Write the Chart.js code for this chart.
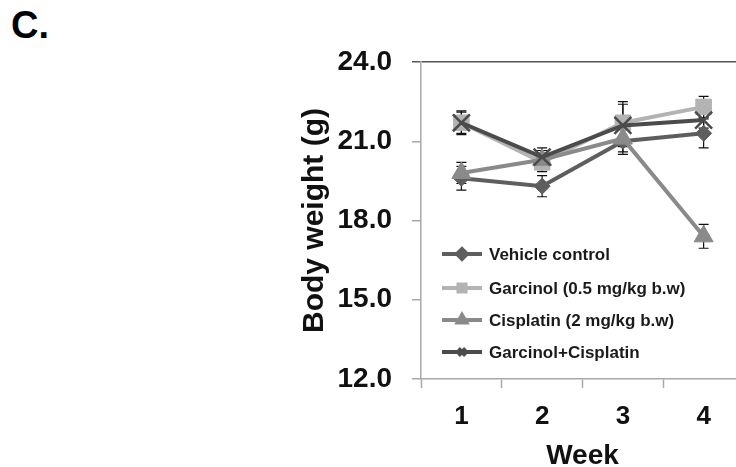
<!DOCTYPE html>
<html>
<head>
    <meta charset="utf-8" />
    <title>Body weight</title>
    <style>
        body { margin: 0; background: #fff; overflow: hidden; }
        #panel { position: absolute; left: 11px; top: 4px; font: bold 38px "Liberation Sans", Arial, sans-serif; color: #000; }
        #wrap { position: absolute; left: 0; top: 0; }
    </style>
</head>
<body>
    <div id="panel">C.</div>
    <div id="wrap"><canvas id="chart" width="760" height="467"></canvas></div>

    <script src="https://cdn.jsdelivr.net/npm/chart.js"></script>
    <script type="text/javascript">
        // datos
        const weeks = ['1', '2', '3', '4'];
        const yTicks = [12, 15, 18, 21, 24];

        const vehicle = [19.6, 19.3, 21.0, 21.3];
        const vehicleErr = [0.45, 0.4, 0.5, 0.55];
        const garcinol = [21.7, 20.2, 21.7, 22.3];
        const garcinolErr = [0.45, 0.35, 0.8, 0.4];
        const cisplatin = [19.8, 20.3, 21.1, 17.4];
        const cisplatinErr = [0.4, 0.35, 0.5, 0.45];
        const combo = [21.7, 20.4, 21.6, 21.8];
        const comboErr = [0.4, 0.35, 0.8, 0.3];

        const fontFam = '"Liberation Sans", Arial, sans-serif';

        // barras de error
        const errorBars = {
            id: 'errorBars',
            beforeDatasetsDraw(chart) {
                const ctx = chart.ctx;
                const y = chart.scales.y;
                ctx.save();
                ctx.strokeStyle = '#111';
                ctx.lineWidth = 1.2;
                chart.data.datasets.forEach((ds, i) => {
                    const meta = chart.getDatasetMeta(i);
                    meta.data.forEach((pt, j) => {
                        const v = ds.data[j];
                        const e = ds.err[j];
                        const y1 = y.getPixelForValue(v + e);
                        const y2 = y.getPixelForValue(v - e);
                        ctx.beginPath();
                        ctx.moveTo(pt.x, y1); ctx.lineTo(pt.x, y2);
                        ctx.moveTo(pt.x - 5, y1); ctx.lineTo(pt.x + 5, y1);
                        ctx.moveTo(pt.x - 5, y2); ctx.lineTo(pt.x + 5, y2);
                        ctx.stroke();
                    });
                });
                ctx.restore();
            }
        };

        // leyenda dentro del area del grafico
        const insideLegend = {
            id: 'insideLegend',
            afterDraw(chart) {
                const ctx = chart.ctx;
                const x0 = 442, x1 = 482, tx = 489;
                const rows = [254, 288, 320, 352];
                ctx.save();
                chart.data.datasets.forEach((ds, i) => {
                    const yy = rows[i];
                    ctx.strokeStyle = ds.borderColor;
                    ctx.fillStyle = ds.borderColor;
                    ctx.lineWidth = 4;
                    ctx.beginPath();
                    ctx.moveTo(x0, yy); ctx.lineTo(x1, yy);
                    ctx.stroke();
                    Chart.helpers.drawPoint(ctx, {
                        pointStyle: ds.pointStyle,
                        radius: 5,
                        rotation: 0,
                        borderWidth: ds.pointStyle === 'crossRot' ? 1.5 : 1
                    }, (x0 + x1) / 2, yy);
                    ctx.fillStyle = '#1a1a1a';
                    ctx.font = 'bold 17px ' + fontFam;
                    ctx.textAlign = 'left';
                    ctx.textBaseline = 'middle';
                    ctx.fillText(ds.label, tx, yy + 1);
                });
                ctx.restore();
            }
        };

        function serie(label, data, err, color, style, radius, order) {
            return {
                label: label,
                data: data,
                err: err,
                borderColor: color,
                backgroundColor: color,
                borderWidth: 4,
                pointStyle: style,
                pointRadius: radius,
                pointBorderWidth: style === 'crossRot' ? 2.5 : 1,
                pointBackgroundColor: color,
                pointBorderColor: color,
                tension: 0,
                order: order
            };
        }

        const ctx = document.getElementById('chart').getContext('2d');
        const myChart = new Chart(ctx, {
            type: 'line',
            data: {
                labels: weeks,
                datasets: [
                    serie('Vehicle control', vehicle, vehicleErr, '#5e5e5e', 'rectRot', 8, 2),
                    serie('Garcinol (0.5 mg/kg b.w)', garcinol, garcinolErr, '#b3b3b3', 'rect', 11, 3),
                    serie('Cisplatin (2 mg/kg b.w)', cisplatin, cisplatinErr, '#8a8a8a', 'triangle', 11, 1),
                    serie('Garcinol+Cisplatin', combo, comboErr, '#4b4b4b', 'crossRot', 12, 0)
                ]
            },
            options: {
                responsive: false,
                animation: false,
                devicePixelRatio: 1,
                layout: { padding: { top: 62, right: 16, left: 0, bottom: 0 } },
                plugins: {
                    legend: { display: false },
                    tooltip: { enabled: false }
                },
                scales: {
                    x: {
                        offset: true,
                        afterFit: s => { s.height = 88; },
                        grid: {
                            offset: true,
                            drawOnChartArea: false,
                            tickLength: 9,
                            tickColor: '#a8a8a8',
                            tickWidth: 1.5
                        },
                        border: { color: '#a8a8a8', width: 1.5 },
                        ticks: {
                            color: '#111',
                            padding: 13,
                            font: { family: fontFam, size: 26, weight: 'bold' }
                        },
                        title: {
                            display: true,
                            text: 'Week',
                            color: '#111',
                            padding: { top: 0, bottom: -6 },
                            font: { family: fontFam, size: 28, weight: 'bold' }
                        }
                    },
                    y: {
                        min: 12,
                        max: 24,
                        afterFit: s => { s.width = 421; },
                        afterBuildTicks: s => { s.ticks = yTicks.map(v => ({ value: v })); },
                        grid: {
                            drawOnChartArea: true,
                            color: c => (c.tick && c.tick.value === 24) ? '#555' : 'rgba(0,0,0,0)',
                            lineWidth: 1.5,
                            tickLength: 9,
                            tickColor: c => (c.tick && c.tick.value === 24) ? '#555' : '#a8a8a8',
                            tickWidth: 1.5
                        },
                        border: { color: '#a8a8a8', width: 1.5 },
                        ticks: {
                            color: '#111',
                            padding: 20,
                            callback: v => Number(v).toFixed(1),
                            font: { family: fontFam, size: 28, weight: 'bold' }
                        },
                        title: {
                            display: true,
                            text: 'Body weight (g)',
                            color: '#111',
                            padding: { top: 297, bottom: 0 },
                            font: { family: fontFam, size: 30, weight: 'bold' }
                        }
                    }
                }
            },
            plugins: [errorBars, insideLegend]
        });
    </script>
</body>
</html>
